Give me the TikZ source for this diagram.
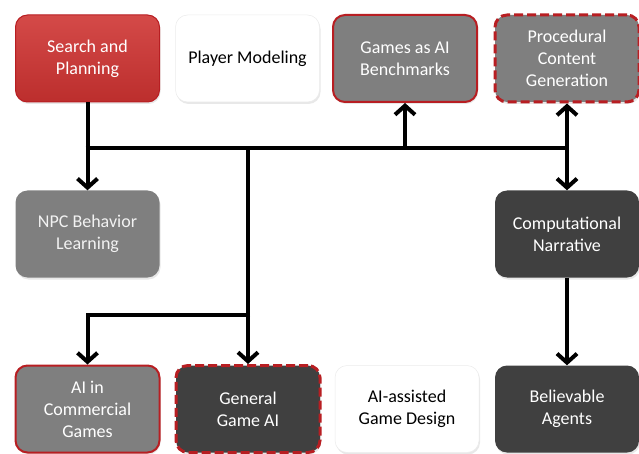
\documentclass[tikz,border=0pt]{standalone}
\usepackage{fontspec}
\setmainfont{Carlito}
\usetikzlibrary{arrows.meta,shadows}
\definecolor{boxred}{HTML}{BC2E2D}
\definecolor{boxredtop}{HTML}{D44A48}
\definecolor{edgered}{HTML}{B81E22}
\definecolor{boxgray}{HTML}{7F7F7F}
\definecolor{boxdark}{HTML}{404040}
\tikzset{
  box/.style={rounded corners=12pt, minimum width=144pt, minimum height=87pt,
    align=center, font=\fontsize{18}{22}\selectfont, text=white,
    drop shadow={opacity=0.18, shadow xshift=1pt, shadow yshift=-2pt}},
  redbox/.style={box, top color=boxredtop, bottom color=boxred, draw=edgered, line width=1pt},
  whitebox/.style={box, fill=white, text=black, draw=black!8, line width=0.5pt},
  graybox/.style={box, fill=boxgray, text=white!95!black},
  grayred/.style={box, fill=boxgray, draw=edgered, line width=2pt},
  graydash/.style={box, fill=boxgray, draw=edgered, line width=3pt, dash pattern=on 9pt off 4pt},
  darkbox/.style={box, fill=boxdark},
  darkdash/.style={box, fill=boxdark, draw=edgered, line width=3pt, dash pattern=on 9pt off 4pt},
  conn/.style={line width=4pt, black},
  arr/.style={conn, -{Straight Barb[length=9pt,width=20pt]}}
}
\begin{document}
\begin{tikzpicture}[x=1pt,y=-1pt]
\useasboundingbox (0,0) rectangle (639,454);
\node[redbox]   (S)  at (87.5,58.5) {Search and\\Planning};
\node[whitebox] (PM) at (247.5,58.5) {Player Modeling};
\node[grayred]  (G)  at (405,58.5) {Games as AI\\Benchmarks};
\node[graydash] (P)  at (567,58.5) {Procedural\\Content\\Generation};
\node[graybox]  (N)  at (87.5,234) {NPC Behavior\\Learning};
\node[darkbox]  (CN) at (567,234) {Computational\\Narrative};
\node[grayred]  (AC) at (87.5,409) {AI in\\Commercial\\Games};
\node[darkdash] (GG) at (248,409) {General\\Game AI};
\node[whitebox] (AD) at (407,409) {AI-assisted\\Game Design};
\node[darkbox]  (BA) at (567,409) {Believable\\Agents};

\coordinate (hl) at (0,148);
\coordinate (bl) at (0,315);
\draw[conn] (S.south) -- (S.south|-hl);
\draw[conn] ([xshift=-2pt]S.south|-hl) -- ([xshift=2pt]P.south|-hl);
\draw[arr] (S.south|-hl) -- (N.north);
\draw[arr] (G.south|-hl) -- (G.south);
\draw[arr] (P.south|-hl) -- (P.south);
\draw[arr] (P.south|-hl) -- (CN.north);
\draw[arr] (GG.north|-hl) -- (GG.north);
\draw[conn] ([xshift=2pt]GG.north|-bl) -- ([xshift=-2pt]AC.north|-bl);
\draw[arr] ([yshift=-2pt]AC.north|-bl) -- (AC.north);
\draw[arr] (CN.south) -- (BA.north);
\end{tikzpicture}
\end{document}
